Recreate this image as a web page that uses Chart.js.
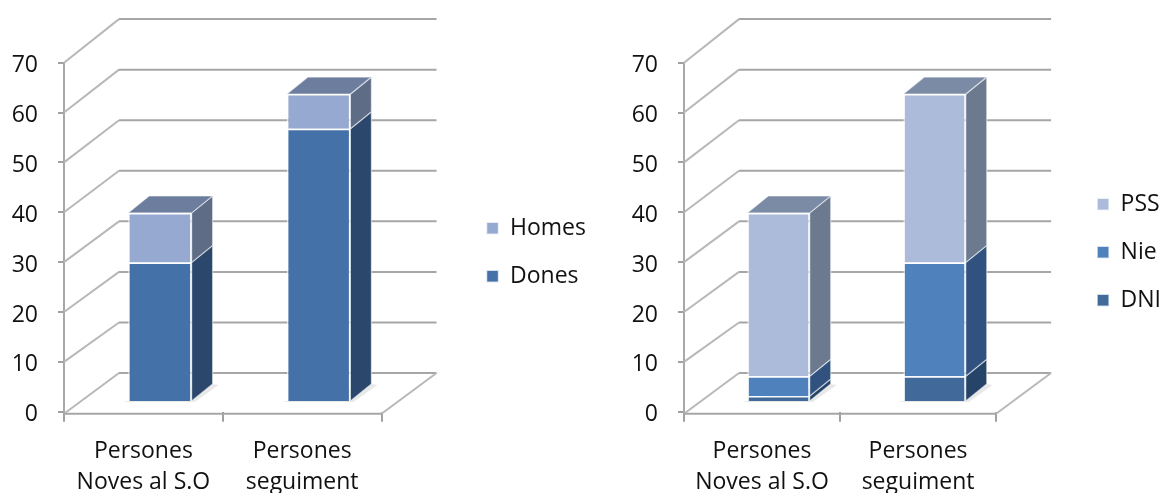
<!DOCTYPE html>
<html>
<head>
<meta charset="utf-8">
<script src="https://cdn.jsdelivr.net/npm/chart.js@4"></script>
<style>
  html, body { margin: 0; padding: 0; background: #fff; overflow: hidden; width: 1161px; height: 493px; }
  canvas { position: absolute; top: 0; }
</style>
</head>
<body>
<canvas id="chartSexe" style="left:0" width="596" height="493"></canvas>
<canvas id="chartTipus" style="left:620px" width="551" height="493"></canvas>
<script>
const categories = [['Persones', 'Noves al S.O'], ['Persones', 'seguiment']];
const yTicks = [0, 10, 20, 30, 40, 50, 60, 70];

const dones = [28, 55];
const homes = [10, 7];

const dni = [1, 5];
const nie = [4, 23];
const pss = [33, 34];

const FONT = "'Open Sans', sans-serif";
const GRID = '#a6a6a6';
const GRID_SIDE = '#b8b8b8';

// box depth of the fake 3D: walls and bars
const WALL_DX = 55;
const BAR_DX = 21;
const BAR_DY = -17;
const BAR_SHIFT = 16.5;   // bars stand further back than the axis labels

function line(ctx, x0, y0, x1, y1) {
    ctx.beginPath();
    ctx.moveTo(x0, y0);
    ctx.lineTo(x1, y1);
    ctx.stroke();
}

function poly(ctx, pts, fill) {
    ctx.beginPath();
    pts.forEach((p, i) => i ? ctx.lineTo(p[0], p[1]) : ctx.moveTo(p[0], p[1]));
    ctx.closePath();
    ctx.fillStyle = fill;
    ctx.fill();
}

const box3d = {
    id: 'box3d',
    beforeDatasetsDraw(chart) {
        const ctx = chart.ctx;
        const { left, right, bottom } = chart.chartArea;
        const y = chart.scales.y;

        ctx.save();
        ctx.lineWidth = 2;
        yTicks.forEach(v => {
            const front = y.getPixelForValue(v);
            const back = front - 38.7 - v * 0.07;
            ctx.strokeStyle = GRID_SIDE;
            line(ctx, left, v === 0 ? bottom + 2 : front, left + WALL_DX, back);
            ctx.strokeStyle = GRID;
            line(ctx, left + WALL_DX, back, right + WALL_DX, back);
        });
        // floor
        const floorBack = y.getPixelForValue(0) - 38.7;
        ctx.strokeStyle = GRID_SIDE;
        line(ctx, right, bottom + 2, right + WALL_DX, floorBack);
        ctx.strokeStyle = GRID;
        line(ctx, left, bottom + 2, right, bottom + 2);
        ctx.restore();

        ctx.save();
        ctx.translate(BAR_SHIFT, 0);

        // floor shadow under the bars
        chart.getDatasetMeta(0).data.forEach(bar => {
            const x0 = bar.x - bar.width / 2, x1 = bar.x + bar.width / 2;
            poly(ctx, [[x0 - 5, bar.base + 1], [x1 + 3, bar.base + 1],
                [x1 + BAR_DX + 6, bar.base + BAR_DY + 1], [x1 + BAR_DX, bar.base + BAR_DY]], 'rgba(0,0,0,0.09)');
        });

        const last = chart.data.datasets.length - 1;
        chart.data.datasets.forEach((ds, i) => {
            chart.getDatasetMeta(i).data.forEach(bar => {
                const x0 = bar.x - bar.width / 2, x1 = bar.x + bar.width / 2;
                const side = [[x1, bar.y], [x1 + BAR_DX, bar.y + BAR_DY], [x1 + BAR_DX, bar.base + BAR_DY], [x1, bar.base]];
                poly(ctx, side, ds.sideColor);
                ctx.strokeStyle = 'rgba(255,255,255,0.55)';
                ctx.lineWidth = 1.2;
                ctx.stroke();
                if (i === last) {
                    poly(ctx, [[x0, bar.y], [x1, bar.y], [x1 + BAR_DX, bar.y + BAR_DY], [x0 + BAR_DX, bar.y + BAR_DY]], ds.topColor);
                    ctx.stroke();
                }
            });
        });
    },
    afterDatasetsDraw(chart) {
        chart.ctx.restore();
    },
};

function makeChart(canvasId, datasets, spacer) {
    return new Chart(document.getElementById(canvasId), {
        type: 'bar',
        data: {
            labels: categories,
            datasets: datasets.map(ds => ({
                ...ds,
                yAxisID: 'yBars',
                clip: false,
                borderWidth: 1.5,
                borderColor: 'rgba(255,255,255,0.7)',
                barPercentage: 1,
                categoryPercentage: 0.4,
            })),
        },
        plugins: [box3d],
        options: {
            responsive: false,
            animation: false,
            devicePixelRatio: 1,
            layout: { padding: { top: 11.7, bottom: 0, left: 0, right: 0 } },
            scales: {
                x: {
                    stacked: true,
                    afterFit: s => { s.height = 81.3; },
                    grid: { offset: true, drawOnChartArea: false, color: '#a0a0a0', lineWidth: 2, tickLength: 10 },
                    border: { display: false },
                    ticks: {
                        color: '#111',
                        padding: 14,
                        maxRotation: 0,
                        autoSkip: false,
                        font: { family: FONT, size: 23, lineHeight: 1.35 },
                    },
                },
                y: {
                    min: 0,
                    max: 70,
                    afterFit: s => { s.width = 64; },
                    afterBuildTicks: s => { s.ticks = yTicks.map(v => ({ value: v })); },
                    grid: { drawOnChartArea: false, color: '#a0a0a0', lineWidth: 2, tickLength: 6 },
                    border: { color: '#a8a8a8', width: 2 },
                    ticks: { color: '#111', padding: 20, labelOffset: 3, font: { family: FONT, size: 23 } },
                },
                // hidden axis: the bars sit on the raised floor, also keeps the gap before the legend
                yBars: {
                    position: 'right',
                    stacked: true,
                    min: -2.16,
                    max: 68.34,
                    afterFit: s => { s.width = spacer; },
                    grid: { display: false },
                    border: { display: false },
                    ticks: { display: false },
                },
            },
            plugins: {
                tooltip: { enabled: false },
                // blank title only holds the plot down, the legend centres on the full height
                title: { display: true, text: ' ', font: { size: 10, lineHeight: 1.2 }, padding: { top: 39, bottom: 0 } },
                legend: {
                    position: 'right',
                    reverse: true,
                    maxWidth: 200,
                    labels: {
                        color: '#111',
                        boxWidth: 12,
                        boxHeight: 12,
                        padding: 25,
                        font: { family: FONT, size: 23 },
                    },
                },
            },
        },
    });
}

makeChart('chartSexe', [
    { label: 'Dones', data: dones, backgroundColor: '#4472a8', sideColor: '#2b476c', topColor: '#4472a8' },
    { label: 'Homes', data: homes, backgroundColor: '#95a9d1', sideColor: '#5e6c86', topColor: '#6d7d9e' },
], 80);

makeChart('chartTipus', [
    { label: 'DNI', data: dni, backgroundColor: '#416a9b', sideColor: '#264468', topColor: '#416a9b' },
    { label: 'Nie', data: nie, backgroundColor: '#4f81bd', sideColor: '#31527f', topColor: '#4f81bd' },
    { label: 'PSS', data: pss, backgroundColor: '#abbbd9', sideColor: '#6b7a8f', topColor: '#7b8ba5' },
], 76);
</script>
</body>
</html>
